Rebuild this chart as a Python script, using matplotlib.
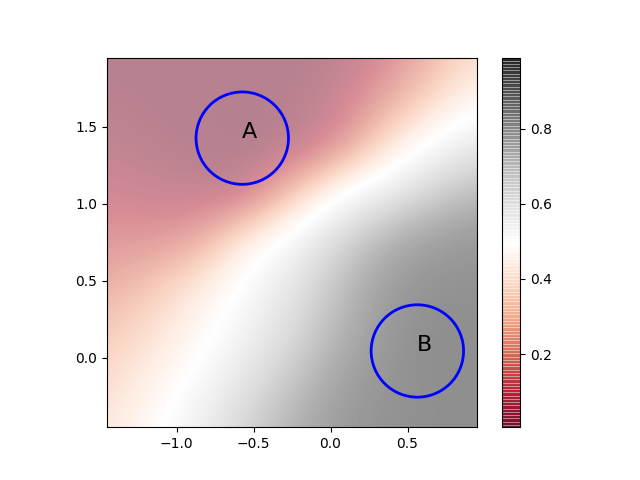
import numpy as np
import matplotlib
matplotlib.use('Agg')
import matplotlib.pyplot as plt
from matplotlib.patches import Circle

# grid nodes the values were read at
xs = [-1.45, -1.15, -0.85, -0.55, -0.25, 0.05, 0.35, 0.65, 0.95]
ys = [1.95, 1.65, 1.35, 1.05, 0.75, 0.45, 0.15, -0.15, -0.45]

# values, top row first
q = [
    [0.02, 0.02, 0.02, 0.02, 0.02, 0.03, 0.10, 0.22, 0.35],
    [0.03, 0.02, 0.02, 0.01, 0.02, 0.06, 0.19, 0.33, 0.47],
    [0.05, 0.03, 0.02, 0.005, 0.03, 0.13, 0.36, 0.55, 0.66],
    [0.09, 0.07, 0.05, 0.06, 0.28, 0.52, 0.64, 0.75, 0.83],
    [0.14, 0.15, 0.20, 0.42, 0.57, 0.72, 0.85, 0.92, 0.95],
    [0.21, 0.28, 0.40, 0.53, 0.65, 0.80, 0.92, 0.97, 0.97],
    [0.28, 0.36, 0.46, 0.58, 0.70, 0.84, 0.94, 0.99, 0.98],
    [0.33, 0.43, 0.53, 0.66, 0.78, 0.90, 0.96, 0.98, 0.98],
    [0.38, 0.48, 0.60, 0.73, 0.85, 0.93, 0.97, 0.98, 0.98],
]

labels = ['A', 'B']
centers_x = [-0.573, 0.564]
centers_y = [1.427, 0.045]
radius = 0.3

dx = xs[1] - xs[0]
dy = ys[0] - ys[1]
ext = [xs[0] - dx / 2, xs[-1] + dx / 2, ys[-1] - dy / 2, ys[0] + dy / 2]

fig, ax = plt.subplots(figsize=(6.4, 4.8), dpi=100)
im = ax.imshow(np.array(q), cmap='RdGy', alpha=0.5, extent=ext,
               interpolation='bicubic', interpolation_stage='data')
ax.set_xlim(xs[0], xs[-1])
ax.set_ylim(ys[-1], ys[0])

for lab, cx, cy in zip(labels, centers_x, centers_y):
    ax.add_patch(Circle((cx, cy), radius, fill=False, color='blue', lw=2))
    ax.text(cx, cy, lab, fontsize=16)

cb = fig.colorbar(im)
# the old striped look of a translucent colorbar: faint edges on each band
fig.canvas.draw()
fc = np.array(cb.solids.get_facecolor())
ec = fc.copy()
ec[:, 3] = 0.3
cb.solids.set_edgecolor(ec)
cb.solids.set_linewidth(0.5)
cb.solids.set_rasterized(False)
plt.savefig('out.png')
